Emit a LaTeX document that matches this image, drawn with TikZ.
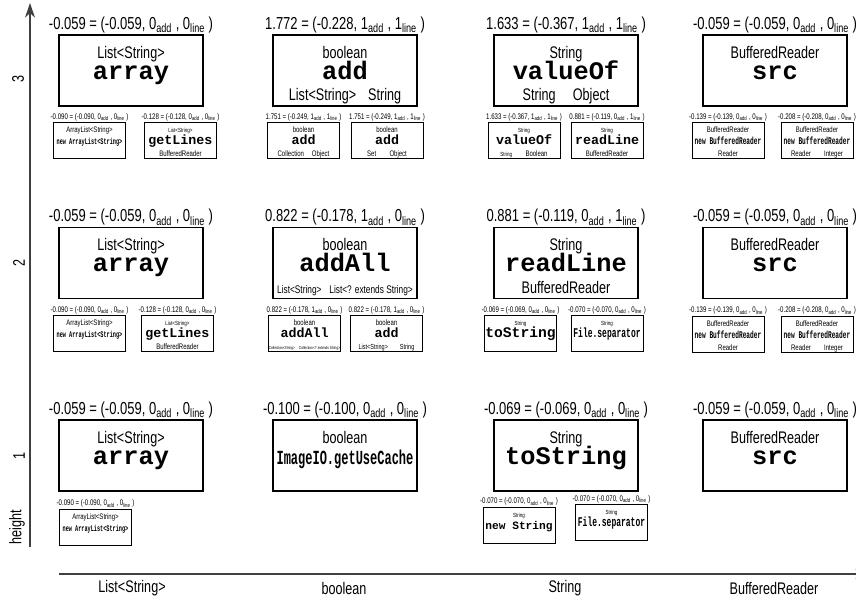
\documentclass[tikz,border=0pt]{standalone}
\usepackage{fontspec}
\setmainfont{Liberation Sans}[FakeStretch=0.75]
\setmonofont{Liberation Mono}
\newfontfamily\narrowmono{Liberation Mono}[FakeStretch=0.6]
\usetikzlibrary{arrows.meta,positioning}

\newcommand{\bigtop}{\rule{0pt}{16.3pt}}
\newcommand{\bigbot}{\rule[-3pt]{0pt}{0pt}}
\newcommand{\smalltop}{\rule{0pt}{7.5pt}}
\newcommand{\smallbot}{\rule[-1.5pt]{0pt}{0pt}}
\newcommand{\bigmeth}{\fontsize{19}{16}\ttfamily\bfseries}
\newcommand{\smallmeth}{\fontsize{10}{9}\ttfamily\bfseries}
\newcommand{\tinytype}{\fontsize{4.5}{9}\selectfont}
\newcommand{\score}[4]{#1 = (#2, #3\textsubscript{add} , #4\textsubscript{line} )}

\begin{document}
\begin{tikzpicture}[x=0.75pt, y=-0.75pt,
  bigbox/.style={draw, line width=0.8pt, minimum width=108pt, minimum height=53.25pt,
    inner sep=0pt, align=center, font={\fontsize{12.6}{16}\selectfont\lineskiplimit=-20pt}},
  smallbox/.style={draw, line width=0.6pt, minimum width=54pt, minimum height=26.5pt,
    inner sep=0pt, align=center, font={\fontsize{6}{9}\selectfont\lineskiplimit=-20pt}},
  bigscore/.style={font=\fontsize{13}{14}\selectfont, inner sep=1pt},
  smallscore/.style={font=\fontsize{6.1}{7}\selectfont, inner sep=0.6pt},
  axislabel/.style={font=\fontsize{12.6}{14}\selectfont, rotate=90, inner sep=0pt},
  category/.style={font=\fontsize{12.6}{14}\selectfont, inner sep=0pt},
  axis/.style={draw=black!75, line width=1pt, -{Stealth[length=11pt, width=7.5pt]}}]

\useasboundingbox (0,0) rectangle (856,600);

% axes
\coordinate (yfoot) at (30,547);
\coordinate (ytop) at (30,3);
\coordinate (xfoot) at (59,574);
\coordinate (xtip) at (870,574);
\draw[axis] (yfoot) -- (ytop);
\draw[axis] (xfoot) -- (xtip);

\node[axislabel] (lev3) at (18,79) {3};
\node[axislabel] (lev2) at (19,263) {2};
\node[axislabel] (lev1) at (19,456) {1};
\node[axislabel] (levname) at (17,527) {height};

\node[category] (catlist) at (132,588) {List<String>};
\node[category] (catbool) at (344,588) {boolean};
\node[category] (catstr) at (565,588) {String};
\node[category] (catbr) at (774,588) {BufferedReader};

% height 3
\node[bigbox] (arr3) at (131,70.5) {\bigtop List<String>\\ {\bigmeth array}\\ \bigbot};
\node[bigscore, above=0pt of arr3] (arr3s) {\score{-0.059}{-0.059}{0}{0}};
\node[bigbox] (add3) at (345,70.5) {\bigtop boolean\\ {\bigmeth add}\\ List<String>\hspace{9pt}String\bigbot};
\node[bigscore, above=0pt of add3] (add3s) {\score{1.772}{-0.228}{1}{1}};
\node[bigbox] (val3) at (566,70.5) {\bigtop String\\ {\bigmeth valueOf}\\ String\hspace{13pt}Object\bigbot};
\node[bigscore, above=0pt of val3] (val3s) {\score{1.633}{-0.367}{1}{1}};
\node[bigbox] (src3) at (775,70.5) {\bigtop BufferedReader\\ {\bigmeth src}\\ \bigbot};
\node[bigscore, above=0pt of src3] (src3s) {\score{-0.059}{-0.059}{0}{0}};

\node[smallbox] (newal3) at (89.5,140.5) {\smalltop ArrayList<String>\\ {\fontsize{6.5}{9}\narrowmono\bfseries new ArrayList<String>}\\ \smallbot};
\node[smallscore, above=0pt of newal3] (newal3s) {\score{-0.090}{-0.090}{0}{0}};
\node[smallbox] (getl3) at (180.5,140.5) {\smalltop{\tinytype List<String>}\\ {\smallmeth getLines}\\ BufferedReader\smallbot};
\node[smallscore, above=0pt of getl3] (getl3s) {\score{-0.128}{-0.128}{0}{0}};
\node[smallbox] (addcol3) at (303.5,140.5) {\smalltop boolean\\ {\smallmeth add}\\ Collection\hspace{6pt}Object\smallbot};
\node[smallscore, above=0pt of addcol3] (addcol3s) {\score{1.751}{-0.249}{1}{1}};
\node[smallbox] (addset3) at (387,140.5) {\smalltop boolean\\ {\smallmeth add}\\ Set\hspace{10pt}Object\smallbot};
\node[smallscore, above=0pt of addset3] (addset3s) {\score{1.751}{-0.249}{1}{1}};
\node[smallbox] (valbool3) at (524,140.5) {\smalltop{\tinytype String}\\ {\smallmeth valueOf}\\ {\tinytype String}\hspace{10pt}Boolean\smallbot};
\node[smallscore, above=0pt of valbool3] (valbool3s) {\score{1.633}{-0.367}{1}{1}};
\node[smallbox] (readl3) at (607,140.5) {\smalltop{\tinytype String}\\ {\smallmeth readLine}\\ BufferedReader\smallbot};
\node[smallscore, above=0pt of readl3] (readl3s) {\score{0.881}{-0.119}{0}{1}};
\node[smallbox] (newbr3) at (728,140.5) {\smalltop BufferedReader\\ {\fontsize{7.7}{9}\narrowmono\bfseries new BufferedReader}\\ Reader\smallbot};
\node[smallscore, above=0pt of newbr3] (newbr3s) {\score{-0.139}{-0.139}{0}{0}};
\node[smallbox] (newbri3) at (817,140.5) {\smalltop BufferedReader\\ {\fontsize{7.7}{9}\narrowmono\bfseries new BufferedReader}\\ Reader\hspace{10pt}Integer\smallbot};
\node[smallscore, above=0pt of newbri3] (newbri3s) {\score{-0.208}{-0.208}{0}{0}};

% height 2
\node[bigbox] (arr2) at (131,263) {\bigtop List<String>\\ {\bigmeth array}\\ \bigbot};
\node[bigscore, above=0pt of arr2] (arr2s) {\score{-0.059}{-0.059}{0}{0}};
\node[bigbox] (addall2) at (345,263) {\bigtop boolean\\ {\bigmeth addAll}\\ {\fontsize{8.3}{9}\selectfont List<String>\hspace{6pt}List<? extends String>}\bigbot};
\node[bigscore, above=0pt of addall2] (addall2s) {\score{0.822}{-0.178}{1}{0}};
\node[bigbox] (readl2) at (566,263) {\bigtop String\\ {\bigmeth readLine}\\ BufferedReader\bigbot};
\node[bigscore, above=0pt of readl2] (readl2s) {\score{0.881}{-0.119}{0}{1}};
\node[bigbox] (src2) at (775,263) {\bigtop BufferedReader\\ {\bigmeth src}\\ \bigbot};
\node[bigscore, above=0pt of src2] (src2s) {\score{-0.059}{-0.059}{0}{0}};

\node[smallbox] (newal2) at (89.5,333.5) {\smalltop ArrayList<String>\\ {\fontsize{6.5}{9}\narrowmono\bfseries new ArrayList<String>}\\ \smallbot};
\node[smallscore, above=0pt of newal2] (newal2s) {\score{-0.090}{-0.090}{0}{0}};
\node[smallbox] (getl2) at (177.5,333.5) {\smalltop{\tinytype List<String>}\\ {\smallmeth getLines}\\ BufferedReader\smallbot};
\node[smallscore, above=0pt of getl2] (getl2s) {\score{-0.128}{-0.128}{0}{0}};
\node[smallbox] (addallcol2) at (304.5,333.5) {\smalltop boolean\\ {\smallmeth addAll}\\ {\fontsize{3.2}{4}\selectfont Collection<String>\hspace{3pt}Collection<? extends String>}\smallbot};
\node[smallscore, above=0pt of addallcol2] (addallcol2s) {\score{0.822}{-0.178}{1}{0}};
\node[smallbox] (addlist2) at (386.5,333.5) {\smalltop boolean\\ {\smallmeth add}\\ {\fontsize{5.5}{9}\selectfont List<String>\hspace{9pt}String}\smallbot};
\node[smallscore, above=0pt of addlist2] (addlist2s) {\score{0.822}{-0.178}{1}{0}};
\node[smallbox] (tostr2) at (520.5,333.5) {\smalltop{\tinytype String}\\ {\fontsize{11}{9}\ttfamily\bfseries toString}\\ \smallbot};
\node[smallscore, above=0pt of tostr2] (tostr2s) {\score{-0.069}{-0.069}{0}{0}};
\node[smallbox] (filesep2) at (607,333.5) {\smalltop{\tinytype String}\\ {\fontsize{10}{9}\narrowmono\bfseries File.separator}\\ \smallbot};
\node[smallscore, above=0pt of filesep2] (filesep2s) {\score{-0.070}{-0.070}{0}{0}};
\node[smallbox] (newbr2) at (728,334) {\smalltop BufferedReader\\ {\fontsize{7.7}{9}\narrowmono\bfseries new BufferedReader}\\ Reader\smallbot};
\node[smallscore, above=0pt of newbr2] (newbr2s) {\score{-0.139}{-0.139}{0}{0}};
\node[smallbox] (newbri2) at (817,334) {\smalltop BufferedReader\\ {\fontsize{7.7}{9}\narrowmono\bfseries new BufferedReader}\\ Reader\hspace{10pt}Integer\smallbot};
\node[smallscore, above=0pt of newbri2] (newbri2s) {\score{-0.208}{-0.208}{0}{0}};

% height 1
\node[bigbox] (arr1) at (131,455.5) {\bigtop List<String>\\ {\bigmeth array}\\ \bigbot};
\node[bigscore, above=0pt of arr1] (arr1s) {\score{-0.059}{-0.059}{0}{0}};
\node[bigbox] (cache1) at (345,455.5) {\bigtop boolean\\ {\fontsize{15}{16}\narrowmono\bfseries ImageIO.getUseCache}\\ \bigbot};
\node[bigscore, above=0pt of cache1] (cache1s) {\score{-0.100}{-0.100}{0}{0}};
\node[bigbox] (tostr1) at (566,455.5) {\bigtop String\\ {\bigmeth toString}\\ \bigbot};
\node[bigscore, above=0pt of tostr1] (tostr1s) {\score{-0.069}{-0.069}{0}{0}};
\node[bigbox] (src1) at (775,455.5) {\bigtop BufferedReader\\ {\bigmeth src}\\ \bigbot};
\node[bigscore, above=0pt of src1] (src1s) {\score{-0.059}{-0.059}{0}{0}};

\node[smallbox] (newal1) at (95.5,527) {\smalltop ArrayList<String>\\ {\fontsize{6.5}{9}\narrowmono\bfseries new ArrayList<String>}\\ \smallbot};
\node[smallscore, above=0pt of newal1] (newal1s) {\score{-0.090}{-0.090}{0}{0}};
\node[smallbox] (newstr1) at (519,525) {\smalltop{\tinytype String}\\ {\fontsize{8.4}{9}\ttfamily\bfseries new String}\\ \smallbot};
\node[smallscore, above=0pt of newstr1] (newstr1s) {\score{-0.070}{-0.070}{0}{0}};
\node[smallbox] (filesep1) at (611.5,522.5) {\smalltop{\tinytype String}\\ {\fontsize{10}{9}\narrowmono\bfseries File.separator}\\ \smallbot};
\node[smallscore, above=0pt of filesep1] (filesep1s) {\score{-0.070}{-0.070}{0}{0}};
\end{tikzpicture}
\end{document}
